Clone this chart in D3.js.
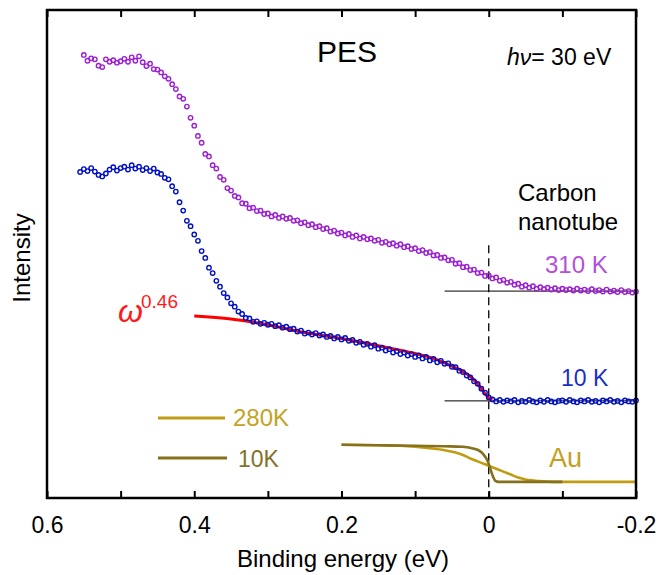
<!DOCTYPE html>
<html>
<head>
<meta charset="utf-8">
<script src="https://d3js.org/d3.v7.min.js"></script>
<style>
body { margin: 0; background: #fff; }
text { font-family: Arial, "Liberation Sans", sans-serif; }
</style>
</head>
<body>
<svg id="graph1" width="659" height="575"></svg>
<script>
// PES spectra, energies go from start in steps of energyStep (eV)
var energyStep = 0.005;

var start310K = 0.55;
var intensity310K = [
    90.8, 89.6, 90.1, 89.9, 88.6, 88.3, 89.9, 89.4, 89.7, 89.2,
    89.5, 90.0, 89.4, 90.3, 89.6, 90.5, 89.3, 88.5, 89.0, 87.9,
    87.8, 87.2, 86.4, 85.9, 84.8, 83.8, 82.3, 81.8, 80.2, 77.9,
    76.3, 74.2, 72.8, 70.5, 70.0, 68.2, 67.5, 65.8, 65.2, 63.5,
    63.0, 61.9, 61.6, 60.4, 60.3, 59.4, 59.5, 58.8, 58.9, 58.2,
    58.3, 57.7, 58.0, 57.4, 57.7, 57.2, 57.4, 56.8, 56.9, 56.3,
    56.5, 55.9, 56.1, 55.5, 55.7, 55.1, 55.3, 54.6, 54.8, 54.2,
    54.4, 53.8, 54.1, 53.5, 53.8, 53.2, 53.5, 53.0, 53.2, 52.7,
    52.9, 52.3, 52.5, 52.0, 52.2, 51.7, 52.0, 51.4, 51.6, 51.0,
    51.2, 50.6, 50.8, 50.2, 50.4, 49.7, 49.8, 49.2, 49.3, 48.7,
    48.8, 48.0, 48.1, 47.3, 47.4, 46.7, 46.8, 46.1, 46.2, 45.5,
    45.6, 45.0, 45.2, 44.5, 44.7, 44.1, 44.3, 43.7, 43.9, 43.3,
    43.6, 43.1, 43.4, 42.9, 43.2, 42.8, 43.1, 42.7, 43.0, 42.6,
    42.9, 42.6, 42.8, 42.5, 42.9, 42.5, 42.7, 42.4, 42.8, 42.4,
    42.6, 42.3, 42.7, 42.3, 42.5, 42.2, 42.6, 42.2, 42.4, 42.1,
    42.3
];

var start10K = 0.555;
var intensity10K = [
    66.8, 67.4, 67.0, 67.6, 66.9, 66.2, 65.9, 66.5, 67.3, 67.8,
    67.1, 67.6, 67.9, 67.3, 68.2, 67.5, 67.9, 67.2, 67.6, 67.0,
    67.5, 66.7, 66.4, 65.6, 65.3, 63.9, 62.8, 60.6, 58.9, 56.8,
    55.7, 54.0, 52.7, 50.6, 49.2, 47.2, 46.1, 44.5, 43.3, 42.0,
    41.1, 39.9, 39.2, 38.2, 37.7, 36.9, 36.8, 36.1, 36.2, 35.7,
    35.9, 35.5, 35.7, 35.2, 35.4, 34.9, 35.1, 34.6, 34.7, 34.1,
    34.3, 33.7, 33.9, 33.5, 33.8, 33.3, 33.5, 33.0, 33.2, 32.7,
    33.0, 32.5, 32.8, 32.2, 32.4, 31.8, 32.0, 31.4, 31.6, 31.0,
    31.3, 30.6, 30.8, 30.2, 30.5, 29.8, 30.1, 29.5, 29.8, 29.2,
    29.5, 28.9, 29.2, 28.6, 28.9, 28.2, 28.5, 27.8, 28.1, 27.5,
    27.6, 26.9, 26.8, 26.1, 25.8, 25.1, 24.7, 23.9, 23.4, 22.4,
    21.6, 20.6, 20.2, 19.8, 20.1, 19.7, 20.0, 19.8, 20.1, 19.6,
    19.9, 19.7, 20.1, 19.8, 19.6, 20.0, 19.7, 20.1, 19.8, 19.6,
    19.9, 20.0, 19.7, 20.1, 19.8, 19.6, 20.0, 19.8, 20.1, 19.7,
    19.9, 19.6, 20.0, 19.8, 20.1, 19.7, 19.9, 19.6, 20.0, 19.8,
    19.7, 20.0
];

// power-law fit (omega^0.46)
var fitEnergy = [0.40, 0.35, 0.30, 0.25, 0.20, 0.15, 0.10, 0.075, 0.05, 0.035, 0.025, 0.015, 0.008, 0.003, 0.0, -0.005];
var fitIntensity = [37.3, 36.7, 35.5, 33.9, 32.7, 31.2, 29.6, 28.6, 27.0, 25.9, 24.9, 23.4, 22.0, 21.0, 20.5, 20.1];

// Au reference
var au280KEnergy = [0.20, 0.15, 0.12, 0.10, 0.08, 0.06, 0.045, 0.035, 0.025, 0.015, 0.005, 0.0, -0.01, -0.02, -0.03, -0.04, -0.05, -0.06, -0.075, -0.09, -0.12, -0.2];
var au280KIntensity = [10.9, 10.8, 10.7, 10.5, 10.2, 9.8, 9.3, 8.8, 8.1, 7.5, 6.9, 6.6, 6.0, 5.4, 4.8, 4.2, 3.8, 3.6, 3.4, 3.3, 3.3, 3.3];
var au10KEnergy = [0.20, 0.15, 0.10, 0.06, 0.035, 0.02, 0.012, 0.007, 0.003, 0.0, -0.003, -0.006, -0.009, -0.013, -0.05, -0.1];
var au10KIntensity = [10.9, 10.8, 10.7, 10.6, 10.5, 10.1, 9.6, 8.9, 8.0, 7.0, 5.6, 4.3, 3.5, 3.3, 3.3, 3.3];

var baselineEnergy = [0.06, -0.2];
var baseline310K = 42.4;
var baseline10K = 19.9;
var fermiTop = 51.8;

var xTicks = [0.6, 0.5, 0.4, 0.3, 0.2, 0.1, 0, -0.1, -0.2];
var xTickLabels = [0.6, 0.4, 0.2, 0, -0.2];

var purple = '#9c1fd2';
var blue = '#0010c4';
var gold = '#bf9c12';
var olive = '#85701c';

var plotLeft = 47, plotRight = 636, plotTop = 10, plotBottom = 498;

var xs = d3.scaleLinear().domain([0.6, -0.2]).range([plotLeft, plotRight]);
var ys = d3.scaleLinear().domain([0, 100]).range([plotBottom, plotTop]);

var svg = d3.select('#graph1');

function toPoints(start, values) {
    return values.map(function (v, i) {
        return { e: start - i * energyStep, v: v };
    });
}

function zipPoints(es, vs) {
    return es.map(function (e, i) { return { e: e, v: vs[i] }; });
}

var line = d3.line()
    .x(function (d) { return xs(d.e); })
    .y(function (d) { return ys(d.v); })
    .curve(d3.curveMonotoneX);

function drawMarkers(points, color) {
    svg.append('g').selectAll('circle')
        .data(points)
        .enter()
        .append('circle')
        .attr('cx', function (d) { return xs(d.e); })
        .attr('cy', function (d) { return ys(d.v); })
        .attr('r', 2.2)
        .attr('fill', 'none')
        .attr('stroke', color)
        .attr('stroke-width', 1.4);
}

// baselines + Fermi level
[baseline310K, baseline10K].forEach(function (b) {
    svg.append('line')
        .attr('x1', xs(baselineEnergy[0])).attr('x2', xs(baselineEnergy[1]))
        .attr('y1', ys(b)).attr('y2', ys(b))
        .attr('stroke', '#000').attr('stroke-width', 1);
});

svg.append('line')
    .attr('x1', xs(0)).attr('x2', xs(0))
    .attr('y1', ys(fermiTop)).attr('y2', ys(0))
    .attr('stroke', '#000').attr('stroke-width', 1.3)
    .attr('stroke-dasharray', '8,5');

// Au curves
svg.append('path')
    .datum(zipPoints(au280KEnergy, au280KIntensity))
    .attr('d', line).attr('fill', 'none')
    .attr('stroke', gold).attr('stroke-width', 2.6);

svg.append('path')
    .datum(zipPoints(au10KEnergy, au10KIntensity))
    .attr('d', line).attr('fill', 'none')
    .attr('stroke', olive).attr('stroke-width', 2.6);

// 310 K
drawMarkers(toPoints(start310K, intensity310K), purple);

// fit under the 10 K data
svg.append('path')
    .datum(zipPoints(fitEnergy, fitIntensity))
    .attr('d', line).attr('fill', 'none')
    .attr('stroke', '#ff0000').attr('stroke-width', 3);

drawMarkers(toPoints(start10K, intensity10K), blue);

// axes (ticks pointing inward)
var fmt = function (d) { return xTickLabels.indexOf(d) >= 0 ? String(d) : ''; };

var bottomAxis = svg.append('g')
    .attr('transform', 'translate(0,' + plotBottom + ')')
    .call(d3.axisBottom(xs).tickValues(xTicks).tickSizeInner(-7).tickSizeOuter(0).tickPadding(19).tickFormat(fmt));
bottomAxis.select('.domain').remove();
bottomAxis.selectAll('line').attr('stroke-width', 2);
bottomAxis.selectAll('text').attr('font-size', 23).attr('font-family', 'Arial, "Liberation Sans", sans-serif').attr('fill', '#000');

var topAxis = svg.append('g')
    .attr('transform', 'translate(0,' + plotTop + ')')
    .call(d3.axisTop(xs).tickValues(xTicks).tickSizeInner(-7).tickSizeOuter(0).tickFormat(''));
topAxis.select('.domain').remove();
topAxis.selectAll('line').attr('stroke-width', 2);

svg.append('rect')
    .attr('x', plotLeft).attr('y', plotTop)
    .attr('width', plotRight - plotLeft).attr('height', plotBottom - plotTop)
    .attr('fill', 'none').attr('stroke', '#000').attr('stroke-width', 2.5);

// axis titles
svg.append('text')
    .attr('x', 343).attr('y', 567)
    .attr('text-anchor', 'middle').attr('font-size', 24)
    .text('Binding energy (eV)');

svg.append('text')
    .attr('transform', 'translate(30,258) rotate(-90)')
    .attr('text-anchor', 'middle').attr('font-size', 24)
    .text('Intensity');

// annotations
svg.append('text')
    .attr('x', 347).attr('y', 62)
    .attr('text-anchor', 'middle').attr('font-size', 30)
    .text('PES');

var hv = svg.append('text').attr('x', 507).attr('y', 65).attr('font-size', 23);
hv.append('tspan').attr('font-style', 'italic').text('hν');
hv.append('tspan').text('= 30 eV');

svg.append('text').attr('x', 518).attr('y', 201).attr('font-size', 24).text('Carbon');
svg.append('text').attr('x', 518).attr('y', 230).attr('font-size', 24).text('nanotube');

svg.append('text').attr('x', 545).attr('y', 273).attr('font-size', 24).attr('fill', '#b44fd8').text('310 K');
svg.append('text').attr('x', 561).attr('y', 386).attr('font-size', 23).attr('fill', '#1830c8').text('10 K');
svg.append('text').attr('x', 549).attr('y', 467).attr('font-size', 27).attr('fill', '#c4a020').text('Au');

svg.append('text')
    .attr('x', 118).attr('y', 322)
    .attr('font-size', 32).attr('font-style', 'italic')
    .attr('font-family', '"Liberation Serif", "Times New Roman", serif')
    .attr('fill', '#ff1a1a').text('ω');
svg.append('text')
    .attr('x', 141).attr('y', 308)
    .attr('font-size', 19).attr('fill', '#ff1a1a').text('0.46');

// legend for Au
svg.append('line').attr('x1', 158).attr('x2', 225).attr('y1', 418).attr('y2', 418)
    .attr('stroke', gold).attr('stroke-width', 3);
svg.append('text').attr('x', 233).attr('y', 426).attr('font-size', 24).attr('fill', '#c4a323').text('280K');

svg.append('line').attr('x1', 158).attr('x2', 227).attr('y1', 458).attr('y2', 458)
    .attr('stroke', olive).attr('stroke-width', 3);
svg.append('text').attr('x', 238).attr('y', 467).attr('font-size', 23).attr('fill', '#85712a').text('10K');
</script>
</body>
</html>
